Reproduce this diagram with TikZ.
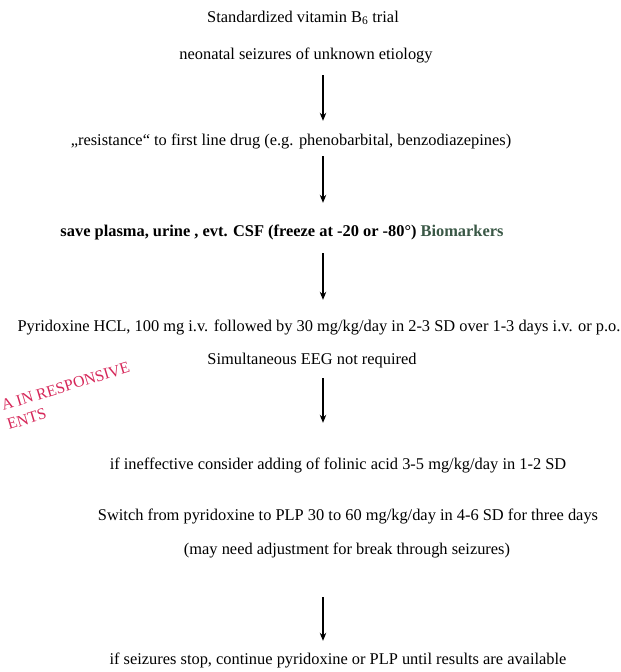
\documentclass[tikz,border=0pt]{standalone}
\usepackage{fontspec}
\setmainfont{Liberation Serif}
\usetikzlibrary{arrows.meta}
\definecolor{stampred}{RGB}{214,40,90}
\definecolor{biogreen}{RGB}{58,88,70}
\begin{document}
\begin{tikzpicture}[x=1pt,y=-1pt,
  txt/.style={anchor=base,inner sep=0pt,text height=11pt,text depth=3.5pt,font=\fontsize{16.4}{18}\selectfont},
  arr/.style={line width=1.1pt,-{Stealth[length=8pt,width=6.5pt]}},
  stamp/.style={anchor=base west,inner sep=0pt,rotate=17,text=stampred,align=left,font=\fontsize{16}{20}\selectfont}]
\useasboundingbox (0,0) rectangle (621,672);
\coordinate (ax) at (323,0);
\node[txt] (n1) at (303,22) {Standardized vitamin B\textsubscript{6} trial};
\node[txt] (n2) at (306,59) {neonatal seizures of unknown etiology};
\node[txt] (n3) at (291,145) {„resistance“ to first line drug (e.g. phenobarbital, benzodiazepines)};
\node[txt,font=\fontsize{16.4}{18}\selectfont\bfseries] (n4) at (282,236) {save plasma, urine , evt. CSF (freeze at -20 or -80°) \textcolor{biogreen}{Biomarkers}};
\node[txt] (n5) at (319,331) {Pyridoxine HCL, 100 mg i.v. followed by 30 mg/kg/day in 2-3 SD over 1-3 days i.v. or p.o.};
\node[txt] (n6) at (312,364) {Simultaneous EEG not required};
\node[txt] (n7) at (338,469) {if ineffective consider adding of folinic acid 3-5 mg/kg/day in 1-2 SD};
\node[txt] (n8) at (348,520) {Switch from pyridoxine to PLP 30 to 60 mg/kg/day in 4-6 SD for three days};
\node[txt] (n9) at (347,554) {(may need adjustment for break through seizures)};
\node[txt] (n10) at (338,664) {if seizures stop, continue pyridoxine or PLP until results are available};
\draw[arr,shorten <=12.5pt,shorten >=13pt] (n2.south -| ax) -- (n3.north -| ax);
\draw[arr,shorten <=7.5pt,shorten >=22pt] (n3.south -| ax) -- (n4.north -| ax);
\draw[arr,shorten <=13.5pt,shorten >=20pt] (n4.south -| ax) -- (n5.north -| ax);
\draw[arr,shorten <=10.5pt,shorten >=35pt] (n6.south -| ax) -- (n7.north -| ax);
\draw[arr,shorten <=39.5pt,shorten >=12pt] (n9.south -| ax) -- (n10.north -| ax);
\node[stamp] (s1) at (9,430) {A IN RESPONSIVE\\ENTS};
\end{tikzpicture}
\end{document}
